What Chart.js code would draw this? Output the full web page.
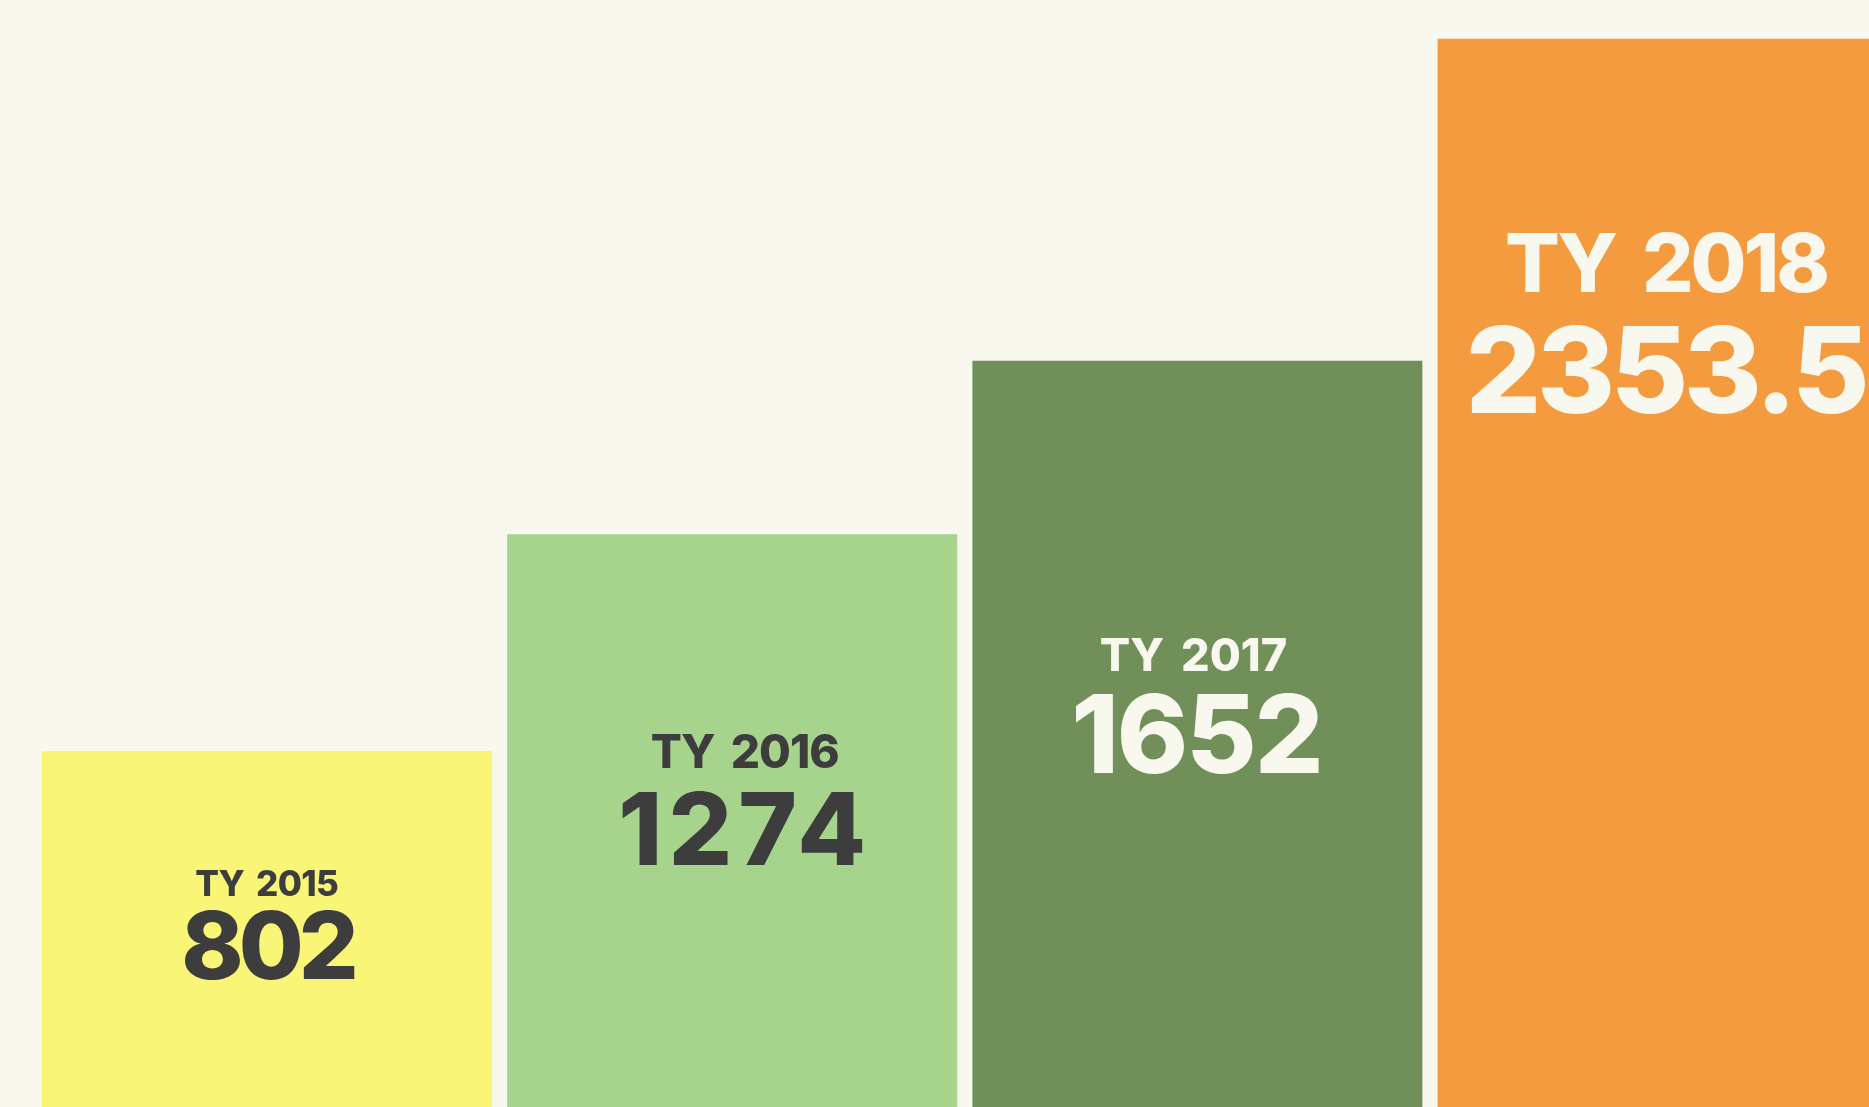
<!DOCTYPE html>
<html><head><meta charset="utf-8">
<script src="https://cdn.jsdelivr.net/npm/chart.js@4.4.1/dist/chart.umd.min.js"></script>
<style>
html,body{margin:0;padding:0;background:#f8f8ee;overflow:hidden;width:1869px;height:1107px;}
#wrap{position:absolute;left:0;top:0;width:1900px;height:1119px;}
canvas{display:block;}
</style></head><body>
<div id="wrap"><canvas id="c" width="1900" height="1119"></canvas></div>
<script>
// ---- data ----
const categories = ['TY 2015', 'TY 2016', 'TY 2017', 'TY 2018'];
const values = [802, 1274, 1652, 2353.5];
const valueLabels = ['802', '1274', '1652', '2353.5'];

// ---- styling ----
const barColors = ['#f9f577', '#a7d48c', '#708f59', '#f49a3f'];
const textColors = ['#3d3d3d', '#3d3d3d', '#f8f8ee', '#f8f8ee'];
const titleSizes = [35, 46, 45, 81];
const numberSizes = [94, 100, 108, 119];
const titleSpacing = [-0.7, -1, 0, -3];
const titleWordSpacing = [5, 7, 7, 12];
const numberSpacing = [-5, 6, -2, -4.5];
const titlePos = [0.394, 0.400, 0.409, 0.2345];
const numberPos = [0.619, 0.565, 0.544, 0.346];
const titleShift = [0, 13, -4, 5];
const numberShift = [3, 10, 0, 5];
const FONT = 'Inter, "Noto Sans", sans-serif';

const labelPlugin = {
  id: 'barLabels',
  afterDatasetsDraw(chart) {
    const ctx = chart.ctx;
    const meta = chart.getDatasetMeta(0);
    meta.data.forEach((bar, i) => {
      const h = bar.base - bar.y;
      ctx.save();
      ctx.fillStyle = textColors[i];
      ctx.textAlign = 'center';
      ctx.textBaseline = 'alphabetic';
      ctx.font = '800 ' + titleSizes[i] + 'px ' + FONT;
      ctx.letterSpacing = titleSpacing[i] + 'px';
      if ('wordSpacing' in ctx) ctx.wordSpacing = titleWordSpacing[i] + 'px';
      ctx.fillText(categories[i], bar.x + titleShift[i] + titleSpacing[i] / 2, bar.y + h * titlePos[i]);
      if ('wordSpacing' in ctx) ctx.wordSpacing = '0px';
      ctx.font = '800 ' + numberSizes[i] + 'px ' + FONT;
      ctx.letterSpacing = numberSpacing[i] + 'px';
      ctx.fillText(valueLabels[i], bar.x + numberShift[i] + numberSpacing[i] / 2, bar.y + h * numberPos[i]);
      ctx.restore();
    });
  }
};

new Chart(document.getElementById('c'), {
  type: 'bar',
  data: {
    labels: categories,
    datasets: [{
      data: values,
      backgroundColor: barColors,
      borderWidth: 0,
      barPercentage: 0.9673,
      categoryPercentage: 1
    }]
  },
  options: {
    responsive: false,
    animation: false,
    devicePixelRatio: 1,
    layout: { padding: { left: 34.4, right: 4.8, top: 0, bottom: 0 } },
    scales: {
      x: { display: false },
      y: { display: false, min: 0, max: 2438 }
    },
    plugins: { legend: { display: false }, tooltip: { enabled: false } }
  },
  plugins: [labelPlugin]
});
</script>
</body></html>
